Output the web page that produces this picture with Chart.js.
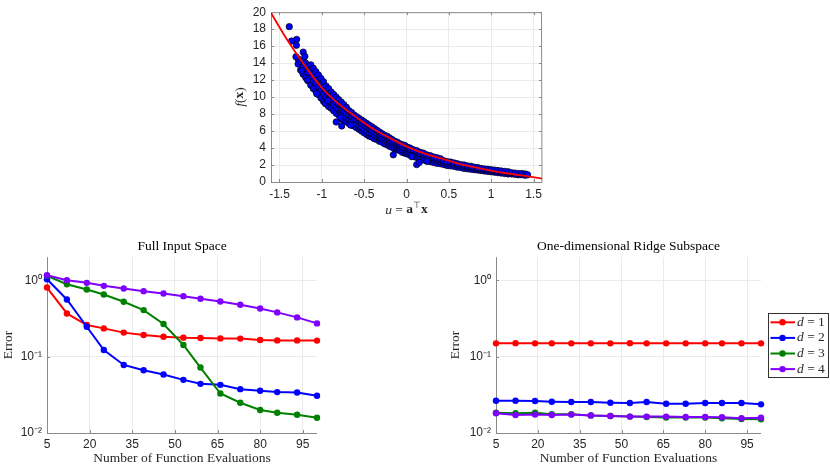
<!DOCTYPE html>
<html lang="en">
<head>
  <meta charset="UTF-8">
  <title>Ridge function errors</title>
  <script src="https://cdn.jsdelivr.net/npm/chart.js"></script>
  <style>
    body { margin: 0; background: #fff; width: 830px; height: 465px; overflow: hidden; position: relative; }
    .panel { position: absolute; }
  </style>
</head>
<body>
  <div class="panel" style="left:230px;top:0;width:330px;height:220px"><canvas id="ridgeChart"></canvas></div>
  <div class="panel" style="left:0;top:230px;width:340px;height:235px"><canvas id="fullChart"></canvas></div>
  <div class="panel" style="left:430px;top:230px;width:400px;height:235px"><canvas id="subChart"></canvas></div>

<script>
  // ---- top panel: samples of f against u, plus the fitted curve ----
  const curveU = [-1.6, -1.4, -1.2, -1.0, -0.8, -0.6, -0.4, -0.2, 0, 0.2, 0.4, 0.6, 0.8, 1.0, 1.2, 1.4, 1.6];
  const curveF = [19.9, 16.6, 13.7, 11.1, 9.2, 7.7, 6.3, 5.2, 4.2, 3.4, 2.8, 2.2, 1.75, 1.35, 1.0, 0.72, 0.4];

  // sample cloud, one column of f values per u
  const cloudU = [-1.28, -1.25, -1.22, -1.19, -1.16, -1.13, -1.10, -1.07, -1.04, -1.01, -0.98, -0.95, -0.92, -0.89,
    -0.86, -0.83, -0.80, -0.77, -0.74, -0.71, -0.68, -0.65, -0.62, -0.59, -0.56, -0.53, -0.50, -0.47, -0.44, -0.41,
    -0.38, -0.35, -0.32, -0.29, -0.26, -0.23, -0.20, -0.17, -0.14, -0.11, -0.08, -0.05, -0.02, 0.01, 0.04, 0.08,
    0.12, 0.16, 0.20, 0.24, 0.28, 0.32, 0.36, 0.40, 0.44, 0.48, 0.52, 0.56, 0.60, 0.64, 0.68, 0.72, 0.76, 0.80,
    0.84, 0.88, 0.92, 0.96, 1.00, 1.04, 1.08, 1.12, 1.16, 1.20, 1.24, 1.28, 1.32, 1.36, 1.40, 1.43];
  const cloudF = [
    [13.9, 14.5], [13.2, 14.2], [12.7, 13.6, 14.3], [12.3, 13.3, 14.0], [11.9, 12.9, 13.6],
    [11.4, 12.3, 13.2, 13.8], [11.0, 11.9, 12.7, 13.4], [10.7, 11.6, 12.4, 13.0], [10.3, 11.2, 12.0, 12.6],
    [9.9, 10.8, 11.6, 12.2], [9.5, 10.4, 11.2, 11.8], [9.2, 10.0, 10.8, 11.3], [8.9, 9.7, 10.4, 11.0],
    [8.7, 9.4, 10.1, 10.6], [8.4, 9.1, 9.8, 10.3], [8.1, 8.8, 9.5, 10.0], [7.9, 8.6, 9.2, 9.7],
    [7.4, 8.0, 8.6, 9.1, 9.4], [7.3, 7.8, 8.4, 8.9, 9.1], [7.1, 7.6, 8.1, 8.6, 8.8], [6.9, 7.4, 7.9, 8.4],
    [6.7, 7.2, 7.7, 8.2], [6.6, 7.0, 7.5, 7.9], [6.4, 6.8, 7.3, 7.7], [6.2, 6.6, 7.1, 7.5], [6.0, 6.4, 6.9, 7.3],
    [5.8, 6.2, 6.7, 7.1], [5.6, 6.0, 6.5, 6.9], [5.4, 5.8, 6.3, 6.7], [5.3, 5.7, 6.1, 6.5], [5.1, 5.5, 5.9, 6.3],
    [5.0, 5.4, 5.7, 6.1], [4.8, 5.2, 5.5, 5.9], [4.7, 5.1, 5.4, 5.7], [4.5, 4.9, 5.2, 5.5], [4.4, 4.8, 5.1, 5.4],
    [4.2, 4.6, 4.9, 5.2], [4.1, 4.4, 4.7, 5.0], [3.9, 4.3, 4.6, 4.8], [3.8, 4.1, 4.4, 4.7], [3.7, 4.0, 4.3, 4.5],
    [3.5, 3.8, 4.1, 4.4], [3.4, 3.7, 4.0, 4.3], [3.3, 3.6, 3.9, 4.1], [3.2, 3.5, 3.8, 4.0], [3.0, 3.3, 3.6, 3.8],
    [2.9, 3.2, 3.5, 3.7], [2.7, 3.0, 3.3, 3.5], [2.6, 2.9, 3.2, 3.4], [2.5, 2.8, 3.0, 3.2], [2.4, 2.7, 2.9, 3.1],
    [2.3, 2.6, 2.8, 2.95], [2.2, 2.5, 2.7, 2.85], [2.15, 2.4, 2.6, 2.75], [2.05, 2.3, 2.5], [1.95, 2.2, 2.4],
    [1.9, 2.15, 2.35], [1.85, 2.05, 2.25], [1.75, 2.0, 2.15], [1.7, 1.9, 2.05], [1.6, 1.85, 2.0],
    [1.55, 1.75, 1.9], [1.5, 1.7, 1.85], [1.45, 1.65, 1.75], [1.4, 1.6, 1.7], [1.35, 1.5, 1.6],
    [1.3, 1.45, 1.55], [1.25, 1.4, 1.5], [1.2, 1.35, 1.45], [1.15, 1.3, 1.4], [1.1, 1.25, 1.35],
    [1.05, 1.2, 1.3], [1.0, 1.15, 1.25], [0.95, 1.1, 1.2], [0.95, 1.1], [0.9, 1.05], [0.85, 1.0], [0.85, 1.0],
    [0.8, 0.95], [0.85]
  ];
  // the odd ones away from the band
  const strayU = [-1.384, -1.356, -1.297, -1.30, -1.305, -1.22, -1.20, -1.24, -1.17, -1.06, -0.96, -0.93,
    -0.83, -0.765, -0.78, -0.66, -0.156, 0.12, 0.24, 0.15, 0.06];
  const strayF = [18.3, 16.6, 16.8, 16.1, 14.75, 15.3, 14.8, 13.1, 12.0, 10.4, 9.3, 9.6,
    7.07, 6.6, 7.6, 6.7, 3.2, 2.05, 2.45, 2.3, 3.0];
  const uTicks = [-1.5, -1, -0.5, 0, 0.5, 1, 1.5];

  // ---- bottom panels: error against number of evaluations ----
  const evals = [5, 12, 19, 25, 32, 39, 46, 53, 59, 66, 73, 80, 86, 93, 100];
  const evalTicks = [5, 20, 35, 50, 65, 80, 95];
  const errTicks = [0.01, 0.1, 1];
  const dims = ['1', '2', '3', '4'];
  const dimColors = ['#ff0000', '#0000ff', '#008000', '#8000ff'];

  const fullErr = [
    [0.802, 0.367, 0.259, 0.234, 0.206, 0.192, 0.182, 0.177, 0.175, 0.173, 0.172, 0.165, 0.163, 0.163, 0.162],
    [1.03, 0.560, 0.246, 0.122, 0.0778, 0.0663, 0.0582, 0.0496, 0.0440, 0.0427, 0.0375, 0.0357, 0.0343, 0.0339, 0.0307],
    [1.14, 0.887, 0.755, 0.650, 0.522, 0.406, 0.267, 0.142, 0.0719, 0.0329, 0.0249, 0.0200, 0.0184, 0.0173, 0.0158],
    [1.16, 1.0, 0.923, 0.844, 0.778, 0.719, 0.670, 0.618, 0.571, 0.527, 0.477, 0.427, 0.379, 0.326, 0.272]
  ];
  const ridgeErr = [
    [0.149, 0.150, 0.149, 0.149, 0.149, 0.149, 0.149, 0.150, 0.149, 0.149, 0.149, 0.149, 0.149, 0.149, 0.149],
    [0.0264, 0.0264, 0.0262, 0.0257, 0.0254, 0.0254, 0.0249, 0.0247, 0.0254, 0.0242, 0.0242, 0.0247, 0.0247, 0.0247, 0.0237],
    [0.0184, 0.0181, 0.0184, 0.0176, 0.0176, 0.0170, 0.0167, 0.0164, 0.0162, 0.0159, 0.0159, 0.0159, 0.0156, 0.0152, 0.0151],
    [0.0181, 0.0172, 0.0174, 0.0172, 0.0174, 0.0170, 0.0167, 0.0164, 0.0164, 0.0164, 0.0162, 0.0162, 0.0161, 0.0156, 0.0158]
  ];

  const SERIF = '"Liberation Serif", serif';
  const SANS = '"Liberation Sans", Arial, sans-serif';
  const GRID = '#ebebeb';
  const AXIS = '#8a8a8a';
  const INK = '#262626';

  // draw a label made of pieces in different fonts
  function richText(ctx, parts, x, y, rot, align) {
    ctx.save();
    ctx.translate(x, y);
    ctx.rotate(rot);
    ctx.textBaseline = 'middle';
    ctx.textAlign = 'left';
    ctx.fillStyle = INK;
    let w = 0;
    parts.forEach(p => { ctx.font = p.font; p.w = ctx.measureText(p.t).width; w += p.w; });
    let cx = align === 'left' ? 0 : -w / 2;
    parts.forEach(p => {
      ctx.font = p.font;
      ctx.fillText(p.t, cx, p.dy || 0);
      cx += p.w;
    });
    ctx.restore();
  }

  // matlab style axes: lines plus short inward ticks
  const axesFrame = {
    id: 'axesFrame',
    beforeDatasetsDraw(chart, args, opts) {
      const ctx = chart.ctx, a = chart.chartArea;
      const xs = chart.scales.x, ys = chart.scales.y;
      ctx.save();
      ctx.strokeStyle = AXIS;
      ctx.lineWidth = 1;
      ctx.beginPath();
      ctx.moveTo(a.left + 0.5, a.top);
      ctx.lineTo(a.left + 0.5, a.bottom + 0.5);
      ctx.lineTo(a.right, a.bottom + 0.5);
      if (opts.box) {
        ctx.lineTo(a.right - 0.5, a.top + 0.5);
        ctx.lineTo(a.left + 0.5, a.top + 0.5);
      }
      xs.ticks.forEach(t => {
        const px = Math.round(xs.getPixelForValue(t.value)) + 0.5;
        ctx.moveTo(px, a.bottom); ctx.lineTo(px, a.bottom - 3);
        if (opts.box) { ctx.moveTo(px, a.top); ctx.lineTo(px, a.top + 3); }
      });
      ys.ticks.forEach(t => {
        const py = Math.round(ys.getPixelForValue(t.value)) + 0.5;
        ctx.moveTo(a.left, py); ctx.lineTo(a.left + 3, py);
        if (opts.box) { ctx.moveTo(a.right, py); ctx.lineTo(a.right - 3, py); }
      });
      ctx.stroke();
      ctx.restore();
    }
  };

  const ridgeLabels = {
    id: 'ridgeLabels',
    afterDraw(chart) {
      const ctx = chart.ctx, a = chart.chartArea;
      const it = 'italic 13.5px ' + SERIF, rm = '13.5px ' + SERIF, bf = 'bold 13.5px ' + SERIF;
      richText(ctx, [{t: 'f', font: it}, {t: '(', font: rm}, {t: 'x', font: bf}, {t: ')', font: rm}],
        10, (a.top + a.bottom) / 2, -Math.PI / 2, 'center');
      richText(ctx, [{t: 'u', font: it}, {t: ' = ', font: rm}, {t: 'a', font: bf},
        {t: '\u22A4', font: '9px ' + SERIF, dy: -4}, {t: 'x', font: bf}],
        (a.left + a.right) / 2, 210, 0, 'center');
    }
  };

  const dimLegend = {
    id: 'dimLegend',
    afterDraw(chart) {
      const ctx = chart.ctx;
      const left = chart.chartArea.right + 7, top = 83, w = 60, h = 64;
      ctx.save();
      ctx.fillStyle = '#fff';
      ctx.fillRect(left, top, w, h);
      ctx.strokeStyle = '#333';
      ctx.lineWidth = 1;
      ctx.strokeRect(left + 0.5, top + 0.5, w, h);
      chart.data.datasets.forEach((ds, i) => {
        const y = top + 9.3 + i * 15.6;
        ctx.strokeStyle = ds.borderColor;
        ctx.lineWidth = 2;
        ctx.beginPath();
        ctx.moveTo(left + 2.5, y); ctx.lineTo(left + 27, y);
        ctx.stroke();
        ctx.fillStyle = ds.borderColor;
        ctx.beginPath();
        ctx.arc(left + 14.5, y, 3.2, 0, Math.PI * 2);
        ctx.fill();
        richText(ctx, [{t: 'd', font: 'italic 13.5px ' + SERIF}, {t: ' = ' + dims[i], font: '13.5px ' + SERIF}],
          left + 29, y, 0, 'left');
      });
      ctx.restore();
    }
  };

  // top scatter
  const cloudPts = [];
  cloudU.forEach((u, i) => cloudF[i].forEach(f => cloudPts.push({x: u, y: f})));
  strayU.forEach((u, i) => cloudPts.push({x: u, y: strayF[i]}));

  new Chart(document.getElementById('ridgeChart'), {
    type: 'scatter',
    data: {
      datasets: [{
        type: 'line',
        data: curveU.map((u, i) => ({x: u, y: curveF[i]})),
        borderColor: '#ff0000',
        borderWidth: 1.8,
        pointRadius: 0,
        cubicInterpolationMode: 'monotone',
        order: 0
      }, {
        data: cloudPts,
        backgroundColor: '#0000ff',
        borderColor: '#000',
        borderWidth: 0.7,
        pointRadius: 3.2,
        order: 1
      }]
    },
    options: {
      responsive: true,
      maintainAspectRatio: false,
      animation: false,
      layout: { padding: { top: 6, right: 18, left: 0, bottom: 0 } },
      plugins: { legend: { display: false }, tooltip: { enabled: false }, axesFrame: { box: true } },
      scales: {
        x: {
          type: 'linear', min: -1.6, max: 1.6,
          afterBuildTicks: s => { s.ticks = uTicks.map(v => ({value: v})); },
          afterFit: s => { s.height = 38; },
          grid: { color: GRID, drawTicks: false },
          border: { display: false },
          ticks: { color: INK, font: { family: SANS, size: 12 }, padding: 5, maxRotation: 0, autoSkip: false,
            callback: v => String(v) }
        },
        y: {
          min: 0, max: 20,
          afterFit: s => { s.width = 41; },
          grid: { color: GRID, drawTicks: false },
          border: { display: false },
          ticks: { stepSize: 2, autoSkip: false, color: INK, font: { family: SANS, size: 12 }, padding: 5 }
        }
      }
    },
    plugins: [axesFrame, ridgeLabels]
  });

  const supLabel = { 1: '10\u2070', 0.1: '10\u207B\u00B9', 0.01: '10\u207B\u00B2' };

  function errorChart(id, title, errs, yTitlePad, rightPad, extra) {
    return new Chart(document.getElementById(id), {
      type: 'line',
      data: {
        datasets: errs.map((vals, i) => ({
          label: 'd = ' + dims[i],
          data: evals.map((n, j) => ({x: n, y: vals[j]})),
          borderColor: dimColors[i],
          backgroundColor: dimColors[i],
          borderWidth: 2,
          pointRadius: 3.2,
          pointBorderWidth: 0,
          clip: false,
          order: errs.length - i
        }))
      },
      options: {
        responsive: true,
        maintainAspectRatio: false,
        animation: false,
        layout: { padding: { top: 0, right: rightPad, left: 0, bottom: 0 } },
        plugins: {
          legend: { display: false },
          tooltip: { enabled: false },
          axesFrame: { box: false },
          title: {
            display: true, text: title, color: '#000', fullSize: false,
            font: { family: SERIF, size: 13.5, weight: 'normal' },
            padding: { top: 8, bottom: 3 }
          }
        },
        scales: {
          x: {
            type: 'linear', min: 5, max: 100,
            afterBuildTicks: s => { s.ticks = evalTicks.map(v => ({value: v})); },
            afterFit: s => { s.height = 32; },
            grid: { color: GRID, drawTicks: false },
            border: { display: false },
            ticks: { color: INK, font: { family: SANS, size: 12 }, padding: 4, maxRotation: 0, autoSkip: false },
            title: {
              display: true, text: 'Number of Function Evaluations', color: INK,
              font: { family: SERIF, size: 13.5, lineHeight: 1 }, padding: 0
            }
          },
          y: {
            type: 'logarithmic', min: 0.01, max: 2,
            afterBuildTicks: s => { s.ticks = errTicks.map(v => ({value: v})); },
            afterFit: s => { s.width = yTitlePad.width; },
            grid: { color: GRID, drawTicks: false },
            border: { display: false },
            ticks: { color: INK, font: { family: SANS, size: 12 }, padding: 5, autoSkip: false,
              callback: v => supLabel[v] || '' },
            title: {
              display: true, text: 'Error', color: INK,
              font: { family: SERIF, size: 13.5, lineHeight: 1.2 },
              padding: { top: yTitlePad.pad, bottom: 0 }
            }
          }
        }
      },
      plugins: extra
    });
  }

  errorChart('fullChart', 'Full Input Space', fullErr, { width: 47, pad: 0 }, 23, [axesFrame]);
  errorChart('subChart', 'One-dimensional Ridge Subspace', ridgeErr, { width: 66, pad: 17 }, 69, [axesFrame, dimLegend]);
</script>
</body>
</html>
